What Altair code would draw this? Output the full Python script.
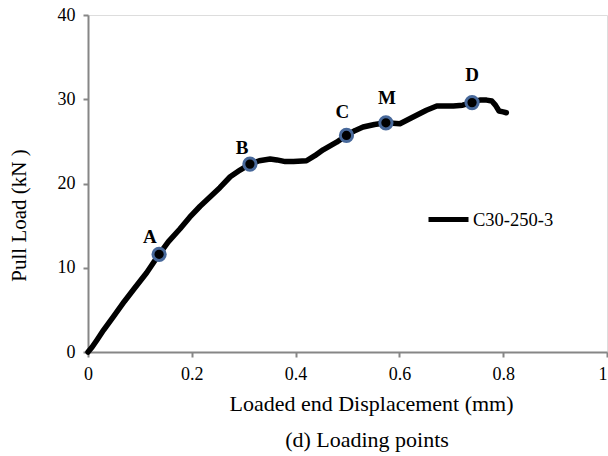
import altair as alt
import pandas as pd

# Curve (displacement mm, load kN)
disp = [0.0, 0.008, 0.017, 0.03, 0.049, 0.07, 0.09, 0.113, 0.137, 0.155, 0.177, 0.196, 0.216,
        0.235, 0.254, 0.274, 0.293, 0.312, 0.33, 0.351, 0.364, 0.38, 0.396, 0.421, 0.437, 0.453,
        0.479, 0.498, 0.515, 0.530, 0.552, 0.574, 0.601, 0.617, 0.633, 0.652, 0.672, 0.688,
        0.704, 0.722, 0.739, 0.755, 0.768, 0.778, 0.785, 0.792, 0.80, 0.806]
load = [0.0, 0.6, 1.4, 2.6, 4.2, 6.0, 7.6, 9.4, 11.6, 13.1, 14.6, 16.0, 17.3,
        18.4, 19.5, 20.8, 21.6, 22.3, 22.7, 22.9, 22.8, 22.6, 22.6, 22.7, 23.3, 24.0,
        24.9, 25.7, 26.3, 26.7, 27.0, 27.2, 27.1, 27.6, 28.1, 28.7, 29.2, 29.2,
        29.2, 29.3, 29.6, 29.9, 29.9, 29.8, 29.3, 28.6, 28.5, 28.4]

# Loading points
pt_name = ["A", "B", "C", "M", "D"]
pt_x = [0.137, 0.312, 0.498, 0.574, 0.740]
pt_y = [11.6, 22.3, 25.7, 27.2, 29.6]
# Label anchors
lab_x = [0.119, 0.297, 0.490, 0.576, 0.740]
lab_y = [13.6, 24.2, 28.5, 30.1, 32.9]

series = "C30-250-3"
x_ticks = [0, 0.2, 0.4, 0.6, 0.8, 1.0]
y_ticks = [0, 10, 20, 30, 40]

FONT = "Liberation Serif"
AX = "#868686"

curve = pd.DataFrame({"x": disp, "y": load, "i": list(range(len(disp))), "s": series})
pts = pd.DataFrame({"x": pt_x, "y": pt_y, "name": pt_name, "lx": lab_x, "ly": lab_y})

xs = alt.Scale(domain=[0, 1], nice=False, zero=False)
ys = alt.Scale(domain=[0, 40], nice=False)

line = alt.Chart(curve).mark_line(strokeWidth=5.5, strokeJoin="round", strokeCap="round").encode(
    x=alt.X("x:Q", scale=xs, axis=alt.Axis(
        title="Loaded end Displacement (mm)", values=x_ticks, format="~g", grid=False,
        domainColor=AX, domainWidth=2, tickColor=AX, tickWidth=2, tickSize=5,
        labelFont=FONT, labelFontSize=18, labelColor="black", labelPadding=8,
        labelFlush=False, labelOverlap=False,
        labelAlign=alt.expr("datum.value == 1 ? 'right' : 'center'"),
        titleFont=FONT, titleFontSize=22, titleFontWeight="normal", titleColor="black",
        titleX=283, titleY=51, titleBaseline="middle", titleAnchor="start", titleAlign="center")),
    y=alt.Y("y:Q", scale=ys, axis=alt.Axis(
        title="Pull Load (kN )", values=y_ticks, grid=False,
        domainColor=AX, domainWidth=2, tickColor=AX, tickWidth=2, tickSize=5,
        labelFont=FONT, labelFontSize=18, labelColor="black", labelPadding=8,
        labelFlush=False, labelOverlap=False,
        titleFont=FONT, titleFontSize=21, titleFontWeight="normal", titleColor="black",
        titleX=-69, titleY=200, titleBaseline="middle", titleAnchor="start", titleAlign="center",
        titleAngle=270)),
    order="i:Q",
    color=alt.Color("s:N", scale=alt.Scale(range=["black"]), legend=alt.Legend(
        title=None, orient="none", legendX=338, legendY=182, symbolType="stroke",
        symbolSize=1600, symbolStrokeWidth=5, symbolStrokeColor="black",
        labelFont=FONT, labelFontSize=18.5, labelColor="black", labelOffset=2)),
)

markers = alt.Chart(pts).mark_point(
    shape="circle", filled=True, fill="black", stroke="#47689a", strokeWidth=3,
    size=150, opacity=1
).encode(x=alt.X("x:Q", scale=xs), y=alt.Y("y:Q", scale=ys))

labels = alt.Chart(pts).mark_text(
    font=FONT, fontSize=19, fontWeight="bold", color="black", baseline="middle", align="center"
).encode(x=alt.X("lx:Q", scale=xs), y=alt.Y("ly:Q", scale=ys), text="name:N")

caption = alt.Chart(pd.DataFrame({"t": ["(d) Loading points"]})).mark_text(
    font=FONT, fontSize=22, color="black", baseline="middle", align="center"
).encode(x=alt.value(279), y=alt.value(425), text="t:N")

chart = alt.layer(line, markers, labels, caption).properties(
    width=519, height=337,
    autosize=alt.AutoSizeParams(type="none"),
    padding={"left": 88, "top": 15, "right": 1, "bottom": 104},
).configure_view(stroke=None).configure(background="white")

chart.save("out.html", embed_options={"renderer": "svg", "actions": False})
